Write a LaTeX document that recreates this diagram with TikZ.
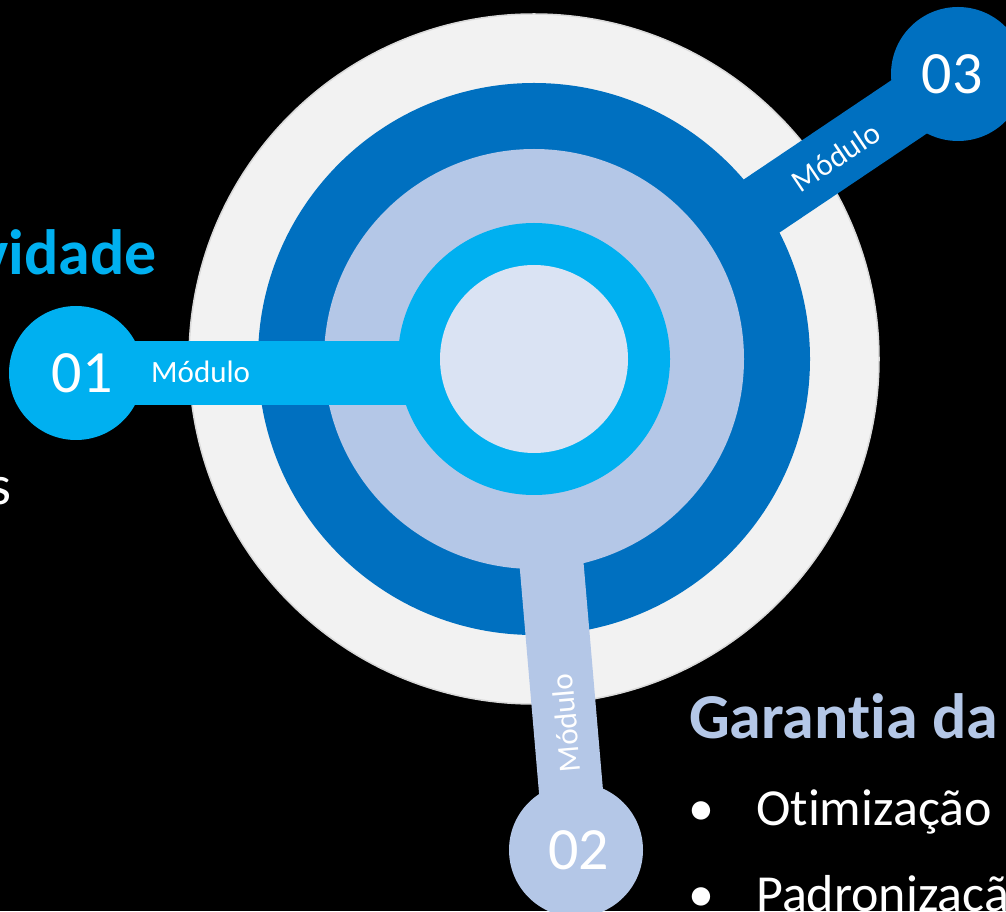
\documentclass[tikz,border=0pt]{standalone}
\usepackage{fontspec}
\setmainfont{Carlito}[Ligatures={NoCommon,NoRequired,NoContextual}]
\usepackage{tikz}
\usepackage{xcolor}
\definecolor{mygray}{HTML}{F2F2F2}
\definecolor{mydark}{HTML}{0070C0}
\definecolor{mylight}{HTML}{B4C7E7}
\definecolor{mycyan}{HTML}{00B0F0}
\definecolor{mypale}{HTML}{DAE3F3}
\tikzset{
    modcirc/.style={circle, minimum size=134pt, inner sep=0pt, text=white, font=\fontsize{60}{60}\selectfont},
    bar/.style={line width=64pt, shorten <=-14pt},
    modlabel/.style={text=white, inner sep=0pt, font=\fontsize{31}{31}\selectfont},
    bigtext/.style={inner sep=0pt, font=\fontsize{52}{52}\selectfont, text=white},
}

\begin{document}
\begin{tikzpicture}[x=1pt, y=1pt]
    \fill[black] (0, 0) rectangle (1006, 911);
    \useasboundingbox (0, 0) rectangle (1006, 911);
    \clip (0, 0) rectangle (1006, 911);
    % centre and module circles
    \coordinate (ctr) at (534, 552);
    \coordinate (b1) at (534, 538);
    \node[modcirc, fill=mycyan] (m1) at (76, 538) {\hspace*{12pt}01};
    \node[modcirc, fill=mylight] (m2) at (576, 61) {\hspace*{5pt}02};
    \node[modcirc, fill=mydark] (m3) at (958, 837) {03\hspace*{12pt}};
    % rings, each bar drawn under the next ring
    \fill[mygray, draw=black!15, line width=1.5pt] (ctr) circle (345pt);
    \draw[bar, mydark] (m3) -- (ctr);
    \fill[mydark] (ctr) circle (276pt);
    \draw[bar, mylight] (m2) -- (ctr);
    \fill[mylight] (ctr) circle (210pt);
    \draw[bar, mycyan] (m1) -- (b1);
    \fill[mycyan] (ctr) circle (136pt);
    \fill[mypale] (ctr) circle (94pt);
    % bar labels
    \node[modlabel, anchor=base west] (l1) at (151, 528) {Módulo};
    \node[modlabel, rotate=94.9] (l2) at (566, 188) {Módulo};
    \node[modlabel, rotate=33.9] (l3) at (836, 754) {Módulo};
    % side texts
    \node[bigtext, anchor=base east, text=mycyan, font=\fontsize{64}{64}\selectfont\bfseries] (t1) at (157, 636) {vidade};
    \node[bigtext, anchor=base east, font=\fontsize{56}{56}\selectfont] (t2) at (12, 406) {s};
    \node[bigtext, anchor=base west, text=mylight, font=\fontsize{64}{64}\selectfont\bfseries] (t3) at (689, 173) {Garantia da};
    \node[bigtext, anchor=base] (d1) at (701, 86) {•};
    \node[bigtext, anchor=base west] (o1) at (756, 86) {Otimização};
    \node[bigtext, anchor=base] (d2) at (701, 0) {•};
    \node[bigtext, anchor=base west] (o2) at (756, 0) {Padronizaçã};
\end{tikzpicture}
\end{document}
